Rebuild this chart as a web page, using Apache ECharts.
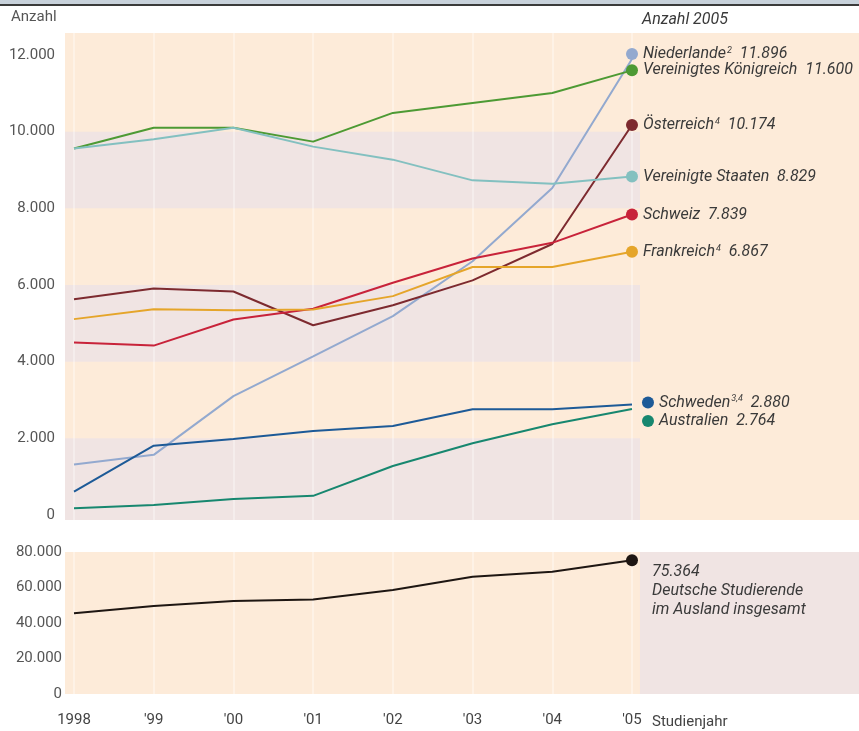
<!DOCTYPE html>
<html>
<head>
<meta charset="utf-8">
<script src="https://cdn.jsdelivr.net/npm/echarts@6/dist/echarts.min.js"></script>
<style>
  html, body { margin: 0; padding: 0; background: #ffffff; }
  #chart { width: 859px; height: 731px; }
</style>
</head>
<body>
<div id="chart"></div>
<script>
// ---------- data ----------
const YEARS = [1998, 1999, 2000, 2001, 2002, 2003, 2004, 2005];
const YEAR_LABELS = ['1998', "'99", "'00", "'01", "'02", "'03", "'04", "'05"];
const TOP_TICKS = [0, 2000, 4000, 6000, 8000, 10000, 12000];

const NIEDERLANDE = [1320, 1570, 3100, 4140, 5190, 6620, 8530, 11896];
const VEREINIGTES_KOENIGREICH = [9560, 10100, 10100, 9740, 10490, 10750, 11010, 11600];
const VEREINIGTE_STAATEN = [9560, 9800, 10100, 9610, 9270, 8730, 8640, 8829];
const OESTERREICH = [5630, 5910, 5830, 4950, 5470, 6120, 7070, 10174];
const SCHWEIZ = [4500, 4420, 5100, 5380, 6060, 6690, 7100, 7839];
const FRANKREICH = [5110, 5370, 5340, 5360, 5710, 6470, 6470, 6867];
const SCHWEDEN = [610, 1810, 1980, 2190, 2320, 2760, 2760, 2880];
const AUSTRALIEN = [175, 260, 420, 500, 1280, 1870, 2370, 2764];
const GESAMT = [45500, 49600, 52400, 53300, 58600, 66100, 68900, 75364];

const COUNTRY_NAMES = ['Niederlande', 'Vereinigtes Königreich', 'Österreich', 'Vereinigte Staaten',
                       'Schweiz', 'Frankreich', 'Schweden', 'Australien'];
const COUNTRY_SUPS = ['2', '', '4', '', '', '4', '3,4', ''];
const COUNTRY_VALUES = [NIEDERLANDE, VEREINIGTES_KOENIGREICH, OESTERREICH, VEREINIGTE_STAATEN,
                        SCHWEIZ, FRANKREICH, SCHWEDEN, AUSTRALIEN];
const GESAMT_TEXT = ['Deutsche Studierende', 'im Ausland insgesamt'];

// ---------- styles ----------
const COLORS = ['#93a9cf', '#4d9a34', '#7d2a2f', '#83c0c0', '#c8233a', '#e5a52a', '#1d5a97', '#17876f'];
const OFFSETS = [[0, -5], [0, 0], [0, 0], [0, 0], [0, 0], [0, 0], [16, -2], [16, 12]];
const PEACH = '#fdebd9';
const GREY = '#f0e4e3';
const FONT = 'Roboto, "Open Sans", sans-serif';
const TEXT = '#3a3a3a';

// axis extents (layout)
const XMIN = 1997.887, XMAX = 2007.848, BAND_END = 2005.10;
const TOP_MIN = -130, TOP_MAX = 12574;

function fmt(v) {
  return String(Math.round(v)).replace(/\B(?=(\d{3})+(?!\d))/g, '.');
}
const pairs = arr => arr.map((v, i) => [YEARS[i], v]);
const last = YEARS.length - 1;

const gridLines = {
  silent: true, symbol: 'none', label: { show: false }, z: 2,
  lineStyle: { color: '#ffffff', width: 1.5, type: 'solid', opacity: 0.45 },
  data: YEARS.map(y => ({ xAxis: y }))
};

const series = [];
series.push({
  type: 'line', xAxisIndex: 0, yAxisIndex: 0, data: [], silent: true, z: 1,
  markArea: {
    silent: true, z: 1,
    itemStyle: { color: GREY },
    data: [
      [{ xAxis: XMIN, yAxis: TOP_MIN }, { xAxis: BAND_END, yAxis: 2000 }],
      [{ xAxis: XMIN, yAxis: 4000 }, { xAxis: BAND_END, yAxis: 6000 }],
      [{ xAxis: XMIN, yAxis: 8000 }, { xAxis: BAND_END, yAxis: 10000 }]
    ]
  },
  markLine: gridLines
});
series.push({
  type: 'line', xAxisIndex: 1, yAxisIndex: 1, data: [], silent: true, z: 1,
  markArea: {
    silent: true, z: 1,
    itemStyle: { color: GREY },
    data: [[{ xAxis: BAND_END, yAxis: 0 }, { xAxis: XMAX, yAxis: 80000 }]]
  },
  markLine: gridLines
});

COUNTRY_NAMES.forEach((name, k) => {
  const sup = COUNTRY_SUPS[k];
  series.push({
    type: 'line', name, xAxisIndex: 0, yAxisIndex: 0, z: 3,
    data: pairs(COUNTRY_VALUES[k]),
    color: COLORS[k],
    lineStyle: { width: 2, color: COLORS[k] },
    symbol: 'circle',
    showAllSymbol: true,
    symbolSize: (v, p) => p.dataIndex === last ? 12 : 0,
    symbolOffset: OFFSETS[k],
    itemStyle: { color: COLORS[k] },
    label: {
      show: true, position: 'right', distance: 5,
      formatter: p => p.dataIndex === last
        ? (sup ? `{n|${name}}{s|${sup}}{n|  ${fmt(p.value[1])}}` : `{n|${name}  ${fmt(p.value[1])}}`)
        : '',
      rich: {
        n: { fontFamily: FONT, fontStyle: 'italic', fontSize: 16, color: TEXT },
        s: { fontFamily: FONT, fontStyle: 'italic', fontSize: 9, color: TEXT, verticalAlign: 'top', padding: [0, 0, 7, 1] }
      }
    },
    emphasis: { disabled: true }
  });
});

series.push({
  type: 'line', name: 'Gesamt', xAxisIndex: 1, yAxisIndex: 1, z: 3,
  data: pairs(GESAMT),
  lineStyle: { width: 2, color: '#1e1612' },
  itemStyle: { color: '#1e1612' },
  symbol: 'circle', showAllSymbol: true,
  symbolSize: (v, p) => p.dataIndex === last ? 12 : 0,
  label: {
    show: true, position: [26, 8], align: 'left', verticalAlign: 'top',
    fontFamily: FONT, fontStyle: 'italic', fontSize: 16, color: TEXT, lineHeight: 19,
    formatter: p => p.dataIndex === last ? [fmt(p.value[1])].concat(GESAMT_TEXT).join('\n') : ''
  },
  emphasis: { disabled: true }
});

const option = {
  animation: false,
  backgroundColor: '#ffffff',
  grid: [
    { left: 65, right: 0, top: 33, height: 487, show: true, backgroundColor: PEACH, borderWidth: 0 },
    { left: 65, right: 0, top: 552, height: 142, show: true, backgroundColor: PEACH, borderWidth: 0 }
  ],
  xAxis: [
    { type: 'value', gridIndex: 0, min: XMIN, max: XMAX, show: false },
    {
      type: 'value', gridIndex: 1, min: XMIN, max: XMAX,
      axisLine: { show: false }, axisTick: { show: false }, splitLine: { show: false },
      axisLabel: {
        customValues: YEARS, margin: 19,
        fontFamily: FONT, fontSize: 15, color: '#444',
        formatter: v => YEAR_LABELS[YEARS.indexOf(Math.round(v))] || ''
      }
    }
  ],
  yAxis: [
    {
      type: 'value', gridIndex: 0, min: TOP_MIN, max: TOP_MAX,
      axisLine: { show: false }, axisTick: { show: false }, splitLine: { show: false },
      axisLabel: { customValues: TOP_TICKS, margin: 10, fontFamily: FONT, fontSize: 15, color: '#555', formatter: v => fmt(v) }
    },
    {
      type: 'value', gridIndex: 1, min: 0, max: 80000, interval: 20000,
      axisLine: { show: false }, axisTick: { show: false }, splitLine: { show: false },
      axisLabel: { margin: 3, fontFamily: FONT, fontSize: 15, color: '#555', formatter: v => fmt(v) }
    }
  ],
  graphic: [
    { type: 'rect', shape: { x: 0, y: 0, width: 859, height: 4 }, style: { fill: '#c8d2db' }, silent: true },
    { type: 'rect', shape: { x: 0, y: 4, width: 859, height: 2 }, style: { fill: '#3b3b3b' }, silent: true },
    { type: 'text', x: 11, y: 17, style: { text: 'Anzahl', font: '15px ' + FONT, fill: '#555', verticalAlign: 'middle' } },
    { type: 'text', x: 642, y: 20, style: { text: 'Anzahl 2005', font: 'italic 16px ' + FONT, fill: TEXT, verticalAlign: 'middle' } },
    { type: 'text', x: 652, y: 722, style: { text: 'Studienjahr', font: '15px ' + FONT, fill: '#444', verticalAlign: 'middle' } }
  ],
  series
};

const chart = echarts.init(document.getElementById('chart'), null, { renderer: 'canvas' });
chart.setOption(option);
</script>
</body>
</html>
